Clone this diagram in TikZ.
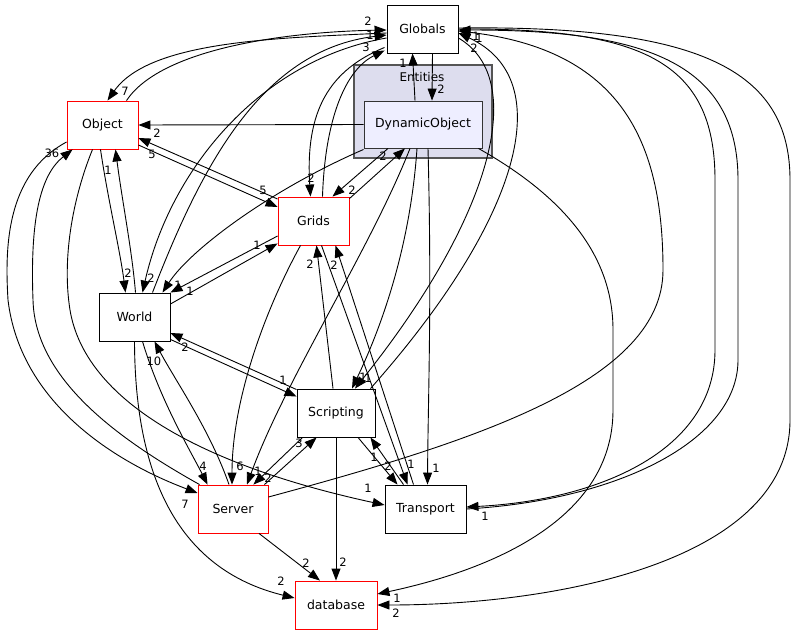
\documentclass[tikz,border=0pt]{standalone}
\usepackage{fontspec}
\setmainfont{DejaVu Sans}
\usetikzlibrary{arrows.meta,calc}
\definecolor{clusterFill}{HTML}{DDDDEE}
\definecolor{innerFill}{HTML}{EEEEFF}
\definecolor{clusterLine}{HTML}{555555}
\tikzset{
  dirNode/.style = {rectangle, align=center, inner sep=0pt, text centered,
    font=\fontsize{12.5}{14}\selectfont, minimum height=48, fill=white},
  %black node
  nodeBlack/.style = {dirNode, draw=black},
  %red node
  nodeRed/.style = {dirNode, draw=red},
  %node inside the cluster
  nodeInner/.style = {dirNode, draw=black!80, fill=innerFill, minimum height=47},
  %edge count
  edgeLabel/.style = {inner sep=0pt, font=\fontsize{11.5}{12}\selectfont}
}

\begin{document}
\begin{tikzpicture}[x=1pt,y=-1pt,->,>={Triangle[length=12pt,width=9pt]},line width=0.9pt]
\useasboundingbox (0,0) rectangle (795,635);
% cluster
\draw[-,draw=clusterLine,fill=clusterFill,line width=1.3pt] (354,65) rectangle (492,158);
\node[edgeLabel,font=\fontsize{12}{14}\selectfont] (entities) at (422,77) {Entities};

\node [nodeBlack, minimum width=71] (Globals) at (422.5,29) {Globals};
\node [nodeInner, minimum width=118] (DynObj) at (423,124.5) {DynamicObject};
\node [nodeRed, minimum width=71] (Object) at (102.5,125) {Object};
\node [nodeRed, minimum width=71] (Grids) at (313.5,221) {Grids};
\node [nodeBlack, minimum width=71] (World) at (134.5,317) {World};
\node [nodeBlack, minimum width=78] (Scripting) at (336,413) {Scripting};
\node [nodeRed, minimum width=70] (Server) at (233,509) {Server};
\node [nodeBlack, minimum width=81] (Transport) at (425.5,509) {Transport};
\node [nodeRed, minimum width=82] (database) at (336,605) {database};

% Globals and DynamicObject
\draw ($(Globals.south)+(10,0)$) -- ($(DynObj.north)+(9,0)$);
\draw ($(DynObj.north)+(-8,0)$) -- ($(Globals.south)+(-10,0)$);
\draw (DynObj.west) -- (Object.east);
% into and out of Globals, left side
\draw ($(Globals.west)+(0,4)$) .. controls (280,38) and (150,40) .. ($(Object.north)+(5,0)$);
\draw ($(Object.north)+(24,0)$) .. controls (160,50) and (280,32) .. ($(Globals.west)+(0,1)$);
\draw ($(World.north)+(18,0)$) .. controls (200,170) and (260,50) .. ($(Globals.west)+(0,6)$);
\draw ($(Globals.west)+(0,9)$) .. controls (260,60) and (170,170) .. ($(World.north)+(8,0)$);
\draw ($(Globals.south west)+(-2,-6)$) .. controls (330,70) and (305,110) .. ($(Grids.north)+(-3,0)$);
\draw ($(Grids.north)+(9,0)$) .. controls (325,120) and (345,70) .. ($(Globals.south west)+(-2,-3)$);
% Grids and DynamicObject
\draw ($(DynObj.south)+(-35,0)$) -- ($(Grids.north)+(19,0)$);
\draw ($(Grids.north east)+(0,2)$) -- ($(DynObj.south)+(-18,0)$);
\draw ($(DynObj.south west)+(0,1)$) .. controls (270,190) and (190,250) .. ($(World.north)+(28,0)$);
% World, Grids and Object
\draw ($(Grids.west)+(0,15)$) -- (World.north east);
\draw ($(World.east)+(0,-13)$) -- ($(Grids.south west)+(0,-2)$);
\draw ($(Grids.west)+(0,-22)$) -- ($(Object.east)+(0,13)$);
\draw ($(Object.east)+(0,20)$) -- ($(Grids.west)+(0,-14)$);
\draw ($(Object.south)+(-2,0)$) .. controls (108,200) and (120,250) .. ($(World.north)+(-9,0)$);
\draw ($(World.north)+(1,0)$) .. controls (132,250) and (122,200) .. ($(Object.south)+(13,0)$);
% Object to the lower nodes
\draw ($(Object.west)+(0,17)$) .. controls (5,175) and (5,250) .. (8,300)
  .. controls (20,400) and (110,460) .. ($(Server.west)+(0,-16)$);
\draw ($(Server.north west)+(2,0)$) .. controls (120,440) and (35,380) .. (33,300)
  .. controls (30,220) and (40,175) .. ($(Object.south west)+(6,0)$);
\draw ($(Object.south)+(-10,0)$) .. controls (72,200) and (62,260) .. (70,310)
  .. controls (85,400) and (200,465) .. ($(Transport.west)+(0,-4)$);
% World to the lower nodes
\draw ($(World.south)+(8,0)$) .. controls (160,400) and (190,450) .. ($(Server.north west)+(10,0)$);
\draw ($(Server.north)+(-4,0)$) .. controls (210,430) and (175,380) .. ($(World.south)+(20,0)$);
\draw ($(Scripting.north west)+(0,1)$) -- ($(World.east)+(0,16)$);
\draw ($(World.south east)+(0,-2)$) -- ($(Scripting.north west)+(0,8)$);
\draw (World.south) .. controls (135,480) and (180,570) .. ($(database.west)+(0,-7)$);
% Server
\draw ($(Grids.south)+(-13,0)$) .. controls (265,310) and (232,400) .. ($(Server.north)+(-1,0)$);
\draw ($(DynObj.south)+(-13,0)$) .. controls (370,250) and (285,380) .. ($(Server.north)+(14,0)$);
\draw ($(Scripting.south west)+(6,0)$) -- ($(Server.north east)+(-15,0)$);
\draw ($(Server.north east)+(-4,0)$) -- ($(Scripting.south west)+(20,0)$);
% Scripting, Grids and Transport
\draw ($(Scripting.north)+(-3,0)$) -- ($(Grids.south)+(3,0)$);
\draw ($(Transport.north)+(-12,0)$) -- ($(Grids.south)+(22,0)$);
\draw ($(Grids.south)+(8,0)$) -- ($(Transport.north)+(-18,0)$);
\draw ($(Scripting.south)+(22,0)$) -- ($(Transport.north)+(-28,0)$);
\draw ($(Transport.north)+(-22,0)$) -- ($(Scripting.south east)+(-5,0)$);
\draw ($(DynObj.south)+(5,0)$) .. controls (432,300) and (428,400) .. ($(Transport.north)+(2,0)$);
\draw ($(DynObj.south)+(-6,0)$) .. controls (410,250) and (380,330) .. ($(Scripting.north)+(16,0)$);
% into and out of Globals, right side
\draw ($(Globals.east)+(0,9)$) .. controls (530,80) and (490,220) .. ($(Scripting.north)+(19,0)$);
\draw ($(Scripting.north east)+(-5,0)$) .. controls (520,220) and (560,80) .. ($(Globals.east)+(0,4)$);
\draw ($(Server.east)+(0,-12)$) .. controls (480,440) and (663,380) .. (663,270)
  .. controls (663,140) and (620,50) .. ($(Globals.east)+(0,2)$);
\draw (Globals.east) .. controls (640,28) and (715,60) .. (715,180) -- (715,350)
  .. controls (715,450) and (600,500) .. ($(Transport.east)+(0,-2)$);
\draw (Transport.east) .. controls (620,500) and (738,440) .. (738,360) -- (738,180)
  .. controls (738,60) and (640,30) .. ($(Globals.east)+(0,1)$);
\draw ($(Globals.east)+(0,-1)$) .. controls (700,25) and (790,70) .. (790,180) -- (790,420)
  .. controls (790,560) and (560,605) .. (database.east);
\draw ($(DynObj.south east)+(-4,0)$) .. controls (570,200) and (613,260) .. (613,330) -- (613,410)
  .. controls (613,520) and (490,570) .. ($(database.east)+(0,-11)$);
% database
\draw ($(Server.south)+(26,0)$) -- ($(database.north)+(-16,0)$);
\draw (Scripting.south) -- (database.north);

% counts
\node[edgeLabel] (cGD) at (441,89) {2};
\node[edgeLabel] (cDG) at (403,63) {1};
\node[edgeLabel] (cDO) at (157,133) {2};
\node[edgeLabel] (cGO) at (125,91) {7};
\node[edgeLabel] (cOG) at (368,21) {2};
\node[edgeLabel] (cWG) at (370,35) {1};
\node[edgeLabel] (cGW) at (151,278) {2};
\node[edgeLabel] (cGGr) at (311,178) {2};
\node[edgeLabel] (cGrG) at (366,47) {3};
\node[edgeLabel] (cDGr) at (352,190) {2};
\node[edgeLabel] (cGrD) at (383,156) {2};
\node[edgeLabel] (cDW) at (178,285) {1};
\node[edgeLabel] (cGrW) at (190,291) {1};
\node[edgeLabel] (cWGr) at (257,245) {1};
\node[edgeLabel] (cGrO) at (152,154) {5};
\node[edgeLabel] (cOGr) at (263,190) {5};
\node[edgeLabel] (cOW) at (128,273) {2};
\node[edgeLabel] (cWO) at (108,170) {1};
\node[edgeLabel] (cOS) at (185,504) {7};
\node[edgeLabel] (cSO) at (52,153) {36};
\node[edgeLabel] (cOT) at (368,488) {1};
\node[edgeLabel] (cWS) at (203,466) {4};
\node[edgeLabel] (cSW) at (154,361) {10};
\node[edgeLabel] (cScW) at (185,347) {2};
\node[edgeLabel] (cWSc) at (283,380) {1};
\node[edgeLabel] (cWd) at (281,581) {2};
\node[edgeLabel] (cGrS) at (240,466) {6};
\node[edgeLabel] (cDS) at (258,471) {1};
\node[edgeLabel] (cScS) at (268,478) {2};
\node[edgeLabel] (cSSc) at (299,443) {3};
\node[edgeLabel] (cScGr) at (310,264) {2};
\node[edgeLabel] (cTGr) at (334,265) {2};
\node[edgeLabel] (cGrT) at (411,464) {1};
\node[edgeLabel] (cScT) at (388,466) {2};
\node[edgeLabel] (cTSc) at (374,457) {1};
\node[edgeLabel] (cDT) at (436,468) {1};
\node[edgeLabel] (cDSc) at (363,377) {1};
\node[edgeLabel] (cGSc) at (368,378) {1};
\node[edgeLabel] (cScG) at (476,36) {1};
\node[edgeLabel] (cSG) at (479,38) {1};
\node[edgeLabel] (cTG) at (474,48) {2};
\node[edgeLabel] (cGT) at (485,516) {1};
\node[edgeLabel] (cGd) at (396,613) {2};
\node[edgeLabel] (cDd) at (397,598) {1};
\node[edgeLabel] (cSd) at (306,563) {2};
\node[edgeLabel] (cScd) at (343,562) {2};
\end{tikzpicture}
\end{document}
